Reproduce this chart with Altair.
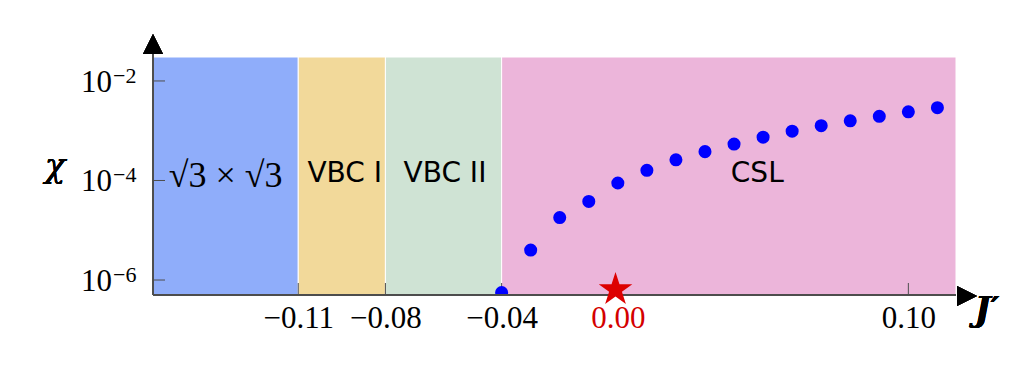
import altair as alt
import pandas as pd

W, H = 803, 238

# phase regions
region_names = ["sqrt3", "VBC I", "VBC II", "CSL"]
region_start = [-0.16, -0.11, -0.08, -0.04]
region_end = [-0.11, -0.08, -0.04, 0.1164]
region_colors = ["#8fadfa", "#f2d99a", "#cfe3d4", "#ecb5da"]

# region labels
serif_label_text = ["√3 × √3"]
serif_label_x = [-0.135]
sans_label_text = ["VBC I", "VBC II", "CSL"]
sans_label_x = [-0.094, -0.0595, 0.048]

# data points
j_prime = [-0.04, -0.03, -0.02, -0.01, 0.00, 0.01, 0.02, 0.03, 0.04, 0.05,
           0.06, 0.07, 0.08, 0.09, 0.10, 0.11]
chi = [5.6e-7, 4.0e-6, 1.8e-5, 3.8e-5, 8.9e-5, 1.6e-4, 2.6e-4, 3.8e-4, 5.4e-4,
       7.4e-4, 9.8e-4, 1.26e-3, 1.58e-3, 1.95e-3, 2.4e-3, 2.9e-3]

star_x = [-0.0008]
star_y = [6.4e-7]

xtick_values = [-0.11, -0.08, -0.04, 0.0, 0.10]
ytick_values = [1e-2, 1e-4, 1e-6]
ytick_exp = ["−2", "−4", "−6"]

regions = pd.DataFrame({"name": region_names, "start": region_start, "end": region_end})
serif_labels = pd.DataFrame({"t": serif_label_text, "x": serif_label_x})
sans_labels = pd.DataFrame({"t": sans_label_text, "x": sans_label_x})
points = pd.DataFrame({"x": j_prime, "y": chi})
star = pd.DataFrame({"x": star_x, "y": star_y})
xticks = pd.DataFrame({"v": xtick_values})
yticks = pd.DataFrame({"v": ytick_values, "e": ytick_exp})

xscale = alt.Scale(domain=[-0.16, 0.1164], nice=False, zero=False)
yscale = alt.Scale(type="log", domain=[5.0e-7, 3.03e-2], nice=False)

AXIS_COLOR = "#4d4d4d"
SERIF = "Liberation Serif"
SANS = "DejaVu Sans"

rects = alt.Chart(regions).mark_rect(stroke="white", strokeWidth=1).encode(
    x=alt.X("start:Q", scale=xscale, title=None,
            axis=alt.Axis(values=xtick_values, format=".2f", labelFont=SERIF,
                          labelFontSize=31, ticks=False, domain=False, grid=False,
                          labelPadding=8, labelOverlap=False, labelBound=False,
                          labelColor={"expr": "datum.value == 0 ? '#d40000' : 'black'"})),
    x2="end:Q",
    y=alt.value(0),
    y2=alt.value(H),
    color=alt.Color("name:N", scale=alt.Scale(domain=region_names, range=region_colors),
                    legend=None),
)

serif_text = alt.Chart(serif_labels).mark_text(
    font=SERIF, fontSize=36, baseline="middle", align="center", color="black"
).encode(x=alt.X("x:Q", scale=xscale), y=alt.value(119), text="t:N")

sans_text = alt.Chart(sans_labels).mark_text(
    font=SANS, fontSize=28, baseline="middle", align="center", color="black"
).encode(x=alt.X("x:Q", scale=xscale), y=alt.value(117), text="t:N")

ytick_rules = alt.Chart(yticks).mark_rule(color=AXIS_COLOR, strokeWidth=1).encode(
    y=alt.Y("v:Q", scale=yscale, axis=None), x=alt.value(0), x2=alt.value(12))

xtick_rules = alt.Chart(xticks).mark_rule(color=AXIS_COLOR, strokeWidth=1).encode(
    x=alt.X("v:Q", scale=xscale), y=alt.value(H - 12), y2=alt.value(H))

dots = alt.Chart(points).mark_circle(size=170, color="#0000ff", opacity=1, clip=True).encode(
    x=alt.X("x:Q", scale=xscale), y=alt.Y("y:Q", scale=yscale, axis=None))

star_path = ("M0,-1L0.2245,-0.309L0.9511,-0.309L0.3633,0.118L0.5878,0.809L0,0.382"
             "L-0.5878,0.809L-0.3633,0.118L-0.9511,-0.309L-0.2245,-0.309Z")
star_mark = alt.Chart(star).mark_point(shape=star_path, filled=True, color="#dd0000",
                                       size=1250, opacity=1).encode(
    x=alt.X("x:Q", scale=xscale), y=alt.Y("y:Q", scale=yscale, axis=None))

ylab_base = alt.Chart(yticks).mark_text(
    text="10", font=SERIF, fontSize=31, align="right", baseline="alphabetic", dy=11,
    color="black").encode(y=alt.Y("v:Q", scale=yscale, axis=None), x=alt.value(-41))

ylab_exp = alt.Chart(yticks).mark_text(
    font=SERIF, fontSize=22, align="left", baseline="alphabetic", dy=2,
    color="black").encode(y=alt.Y("v:Q", scale=yscale, axis=None), x=alt.value(-40),
                          text="e:N")

left_line = alt.Chart(regions).mark_rule(color=AXIS_COLOR, strokeWidth=1.3).encode(
    x=alt.value(0), y=alt.value(-3), y2=alt.value(H))
bottom_line = alt.Chart(regions).mark_rule(color=AXIS_COLOR, strokeWidth=1.3).encode(
    x=alt.value(0), x2=alt.value(W), y=alt.value(H))

up_arrow = alt.Chart(regions).mark_point(shape="M0,-1L1,1L-1,1Z", filled=True,
                                         color="black", size=400, opacity=1).encode(
    x=alt.value(0), y=alt.value(-13))
right_arrow = alt.Chart(regions).mark_point(shape="M1,0L-1,1L-1,-1Z", filled=True,
                                            color="black", size=400, opacity=1).encode(
    x=alt.value(W + 11), y=alt.value(H + 1))

chi_label = alt.Chart(regions).mark_text(
    text="χ", font="DejaVu Serif", fontStyle="italic", fontSize=34, baseline="middle",
    align="center", color="black").encode(x=alt.value(-98), y=alt.value(110))

j_label = alt.Chart(regions).mark_text(
    text="J′", font="DejaVu Serif", fontStyle="italic", fontWeight="bold", fontSize=34,
    baseline="middle", align="center", color="black").encode(x=alt.value(834), y=alt.value(254))

chart = alt.layer(
    rects, serif_text, sans_text, ytick_rules, xtick_rules, dots, bottom_line, left_line,
    star_mark, ylab_base, ylab_exp, up_arrow, right_arrow, chi_label, j_label
).properties(
    width=W, height=H,
    autosize=alt.AutoSizeParams(type="none"),
    padding={"left": 145, "top": 49, "right": 49, "bottom": 65},
    background="white",
).configure_view(stroke=None)

chart.save("out.html", embed_options={"renderer": "svg", "actions": False})
